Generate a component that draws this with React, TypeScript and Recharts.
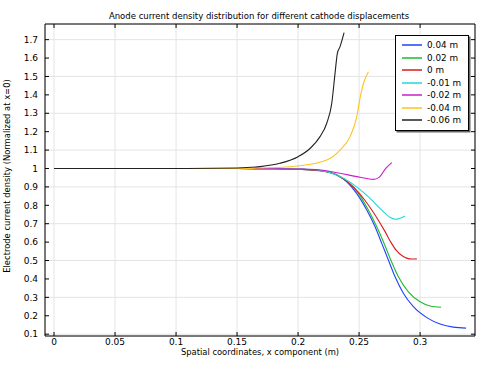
import { CartesianGrid, Line, LineChart, XAxis, YAxis } from "recharts";

// [x (m), normalized current density]
const s004: [number, number][] = [
  [0, 1], [0.15, 1.0], [0.18, 0.999], [0.2, 0.996], [0.218, 0.988], [0.2317, 0.965],
  [0.2399, 0.928], [0.248, 0.865], [0.2563, 0.774], [0.2631, 0.683], [0.2686, 0.593],
  [0.274, 0.503], [0.2795, 0.412], [0.2863, 0.322], [0.2945, 0.249], [0.3055, 0.19],
  [0.3164, 0.155], [0.3273, 0.138], [0.3377, 0.133],
];
const s002: [number, number][] = [
  [0, 1], [0.15, 1.0], [0.18, 0.999], [0.2, 0.996], [0.218, 0.988], [0.2317, 0.966],
  [0.2405, 0.928], [0.2495, 0.865], [0.2576, 0.774], [0.2645, 0.683], [0.2705, 0.593],
  [0.276, 0.503], [0.2822, 0.412], [0.2904, 0.33], [0.3, 0.276], [0.3082, 0.253],
  [0.3172, 0.246],
];
const s000: [number, number][] = [
  [0, 1], [0.15, 1.0], [0.18, 0.999], [0.2, 0.996], [0.218, 0.989], [0.2344, 0.955],
  [0.2453, 0.9], [0.2549, 0.826], [0.2631, 0.747], [0.2713, 0.657], [0.276, 0.6],
  [0.2805, 0.555], [0.285, 0.527], [0.289, 0.513], [0.2935, 0.508], [0.2973, 0.509],
];
const sm001: [number, number][] = [
  [0, 1], [0.15, 1.0], [0.18, 0.999], [0.2016, 0.997], [0.218, 0.99], [0.2372, 0.947],
  [0.248, 0.9], [0.259, 0.838], [0.2686, 0.774], [0.2754, 0.735], [0.2795, 0.724],
  [0.2877, 0.742],
];
const sm002: [number, number][] = [
  [0, 1], [0.15, 1.0], [0.18, 0.999], [0.2016, 0.997], [0.218, 0.992], [0.2344, 0.974],
  [0.2508, 0.952], [0.2617, 0.941], [0.2664, 0.952], [0.2719, 1.001], [0.2768, 1.032],
];
const sm004: [number, number][] = [
  [0, 1], [0.15, 1.0], [0.17, 1.003], [0.19, 1.008], [0.2016, 1.015], [0.2235, 1.046],
  [0.2344, 1.1], [0.2426, 1.173], [0.2481, 1.282], [0.251, 1.39], [0.2536, 1.463],
  [0.2577, 1.526],
];
const sm006: [number, number][] = [
  [0, 1], [0.1, 1.0], [0.15, 1.003], [0.169, 1.01], [0.185, 1.028], [0.2, 1.064],
  [0.21, 1.11], [0.218, 1.173], [0.2235, 1.246], [0.2276, 1.354], [0.2303, 1.517],
  [0.2322, 1.626], [0.2344, 1.662], [0.2377, 1.738],
];

const seriesNames = ["0.04 m", "0.02 m", "0 m", "-0.01 m", "-0.02 m", "-0.04 m", "-0.06 m"];
const seriesData = [s004, s002, s000, sm001, sm002, sm004, sm006];
const colors = ["#2040ff", "#20b830", "#dd1a1a", "#1ed8d8", "#cc1ccc", "#ffc21e", "#222222"];

const xTicks = [0, 0.05, 0.1, 0.15, 0.2, 0.25, 0.3];
const yTicks = [0.1, 0.2, 0.3, 0.4, 0.5, 0.6, 0.7, 0.8, 0.9, 1, 1.1, 1.2, 1.3, 1.4, 1.5, 1.6, 1.7];

const font = "'DejaVu Sans', sans-serif";
const tickStyle = { fontSize: 9, fill: "#000", fontFamily: font };

const toPts = (arr: [number, number][]) => arr.map(([x, y]) => ({ x, y }));

export default function App() {
  return (
    <div style={{ position: "absolute", left: 0, top: 0, width: 482, height: 366, background: "#fff", fontFamily: font }}>
      <LineChart width={482} height={366} margin={{ top: 0, right: 0, bottom: 0, left: 0 }}>
        <CartesianGrid stroke="#e4e4e4" strokeWidth={1} />
        <XAxis
          xAxisId={0}
          dataKey="x"
          type="number"
          domain={[-0.0074, 0.345]}
          ticks={xTicks}
          allowDataOverflow
          height={30}
          stroke="#000"
          tickSize={-4}
          tickMargin={7}
          tick={tickStyle}
          tickFormatter={(v: number) => String(v)}
        />
        <XAxis
          xAxisId="t"
          orientation="top"
          dataKey="x"
          type="number"
          domain={[-0.0074, 0.345]}
          ticks={xTicks}
          allowDataOverflow
          height={24}
          stroke="#000"
          tickSize={-4}
          tick={tickStyle}
          tickFormatter={() => ""}
        />
        <YAxis
          yAxisId={0}
          type="number"
          domain={[0.09, 1.785]}
          ticks={yTicks}
          allowDataOverflow
          width={45}
          stroke="#000"
          tickSize={-4}
          tickMargin={11}
          tick={tickStyle}
          tickFormatter={(v: number) => (v === 1 ? "1" : v.toFixed(1))}
        />
        <YAxis
          yAxisId="r"
          orientation="right"
          type="number"
          domain={[0.09, 1.785]}
          ticks={yTicks}
          allowDataOverflow
          width={7}
          stroke="#000"
          tickSize={-4}
          tick={tickStyle}
          tickFormatter={() => ""}
        />
        {seriesData.map((d, i) => (
          <Line
            key={seriesNames[i]}
            data={toPts(d)}
            dataKey="y"
            name={seriesNames[i]}
            type="monotone"
            stroke={colors[i]}
            strokeWidth={1.1}
            dot={false}
            isAnimationActive={false}
          />
        ))}
      </LineChart>
      <div style={{ position: "absolute", left: 0, width: 518, top: 11, textAlign: "center", fontSize: 8.5, color: "#000", whiteSpace: "nowrap" }}>
        Anode current density distribution for different cathode displacements
      </div>
      <div style={{ position: "absolute", left: 0, width: 520, top: 347, textAlign: "center", fontSize: 8.4, color: "#000", whiteSpace: "nowrap" }}>
        Spatial coordinates, x component (m)
      </div>
      <div
        style={{
          position: "absolute",
          left: 7,
          top: 176,
          transform: "translate(-50%, -50%) rotate(-90deg)",
          fontSize: 8.4,
          color: "#000",
          whiteSpace: "nowrap",
        }}
      >
        Electrode current density (Normalized at x=0)
      </div>
      <div
        style={{
          position: "absolute",
          left: 395,
          top: 35,
          width: 74,
          padding: "3px 0 3px 6px",
          boxSizing: "border-box",
          background: "#fff",
          border: "1px solid #000",
          boxShadow: "1.5px 1.5px 0 #666",
        }}
      >
        {seriesNames.map((n, i) => (
          <div key={n} style={{ display: "flex", alignItems: "center", height: 12.5, fontSize: 8.8, color: "#000" }}>
            <svg width={20} height={4} style={{ display: "block", flex: "0 0 20px", marginRight: 5 }}>
              <line x1={0} y1={2} x2={20} y2={2} stroke={colors[i]} strokeWidth={1.5} />
            </svg>
            {n}
          </div>
        ))}
      </div>
    </div>
  );
}
